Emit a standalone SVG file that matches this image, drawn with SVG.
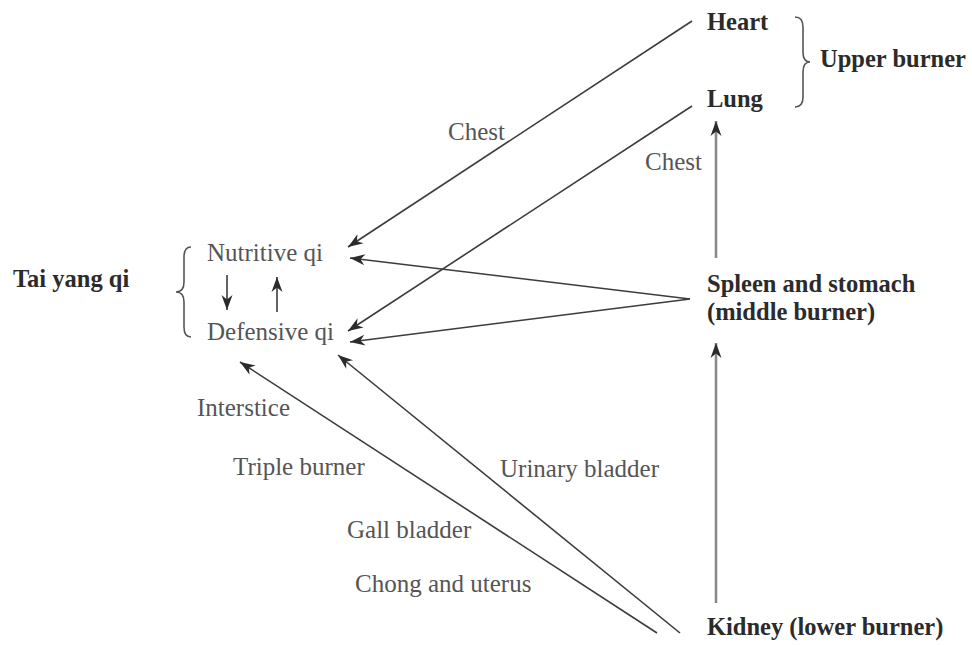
<svg xmlns="http://www.w3.org/2000/svg" width="972" height="645" viewBox="0 0 972 645">
<style>
.b{font-family:"Liberation Serif","Times New Roman",serif;font-weight:bold;font-size:24.5px;fill:#2b2b2b}
.r{font-family:"Liberation Serif","Times New Roman",serif;font-size:25px;fill:#555}
.ln{stroke:#3c3c3c;stroke-width:1.6;fill:none}
.vl{stroke:#8a8a8a;stroke-width:2.6;fill:none}
.br{stroke:#555;stroke-width:1.6;fill:none}
</style>
<defs>
<marker id="ah" markerUnits="userSpaceOnUse" markerWidth="20" markerHeight="14" viewBox="-16 -7 18 14" refX="0" refY="0" orient="auto">
<path d="M0,0 L-15,-5.5 L-10.5,0 L-15,5.5 Z" fill="#2b2b2b"/>
</marker>
</defs>
<rect width="972" height="645" fill="#fff"/>
<g id="connectors">
<line class="ln" x1="692" y1="21" x2="348" y2="247" marker-end="url(#ah)"/>
<line class="ln" x1="692" y1="106" x2="348" y2="331" marker-end="url(#ah)"/>
<line class="ln" x1="690" y1="299" x2="350" y2="258" marker-end="url(#ah)"/>
<line class="ln" x1="690" y1="299" x2="350" y2="342" marker-end="url(#ah)"/>
<line class="ln" x1="657" y1="633" x2="240" y2="362" marker-end="url(#ah)"/>
<line class="ln" x1="680" y1="633" x2="338" y2="355" marker-end="url(#ah)"/>
<line class="vl" x1="716" y1="258" x2="716" y2="121" marker-end="url(#ah)"/>
<line class="vl" x1="716" y1="603" x2="716" y2="343" marker-end="url(#ah)"/>
<line class="ln" x1="227" y1="275" x2="227" y2="310" marker-end="url(#ah)"/>
<line class="ln" x1="277" y1="312" x2="277" y2="277" marker-end="url(#ah)"/>
</g>
<g id="heart"><text class="b" x="707" y="30">Heart</text></g>
<g id="lung"><text class="b" x="707" y="107">Lung</text></g>
<g id="upper-burner">
<path class="br" d="M795,17 Q803,17 803,27 L803,52 Q803,62 810,62 Q803,62 803,72 L803,97 Q803,107 795,107"/>
<text class="b" x="820" y="67">Upper burner</text>
</g>
<g id="spleen"><text class="b" x="707" y="292">Spleen and stomach</text><text class="b" x="707" y="320">(middle burner)</text></g>
<g id="kidney"><text class="b" x="707" y="635">Kidney (lower burner)</text></g>
<g id="tai-yang"><text class="b" x="13" y="287">Tai yang qi</text>
<path class="br" d="M191,247 Q184,247 184,257 L184,282 Q184,292 176,292 Q184,292 184,302 L184,327 Q184,337 191,337"/>
</g>
<g id="nutritive"><text class="r" x="207" y="261">Nutritive qi</text></g>
<g id="defensive"><text class="r" x="207" y="340">Defensive qi</text></g>
<g id="labels">
<text class="r" x="448" y="140">Chest</text>
<text class="r" x="645" y="170">Chest</text>
<text class="r" x="197" y="416">Interstice</text>
<text class="r" x="233" y="475">Triple burner</text>
<text class="r" x="500" y="477">Urinary bladder</text>
<text class="r" x="347" y="538">Gall bladder</text>
<text class="r" x="355" y="592">Chong and uterus</text>
</g>
</svg>
